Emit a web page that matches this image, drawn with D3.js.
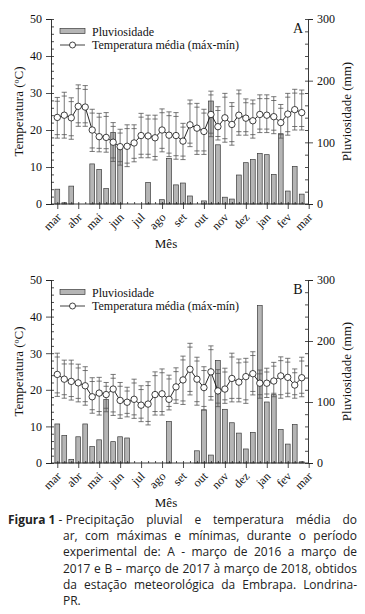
<!DOCTYPE html>
<html>
<head>
<meta charset="utf-8">
<script src="https://cdn.jsdelivr.net/npm/d3@7"></script>
<style>
body{margin:0;background:#fff;}
svg{display:block;}
</style>
</head>
<body>
<script>
// meses (um rótulo a cada 3 decêndios)
let months = ["mar","abr","mai","jun","jul","ago","set","out","nov","dez","jan","fev","mar"];

// A - março 2016 a março 2017 (por decêndio)
let rainA = [24,2,29,0,0,65,56,25,116,90,0,0,0,35,0,7,74,31,34,13,0,5,167,96,11,8,47,67,72,82,80,48,114,21,61,16];
let tempA = [23.4,24.0,23.3,26.4,26.2,20.0,18.2,18.0,16.7,15.5,15.6,16.5,18.5,18.4,17.9,20.0,18.6,18.5,17.0,21.4,20.5,19.6,24.2,20.9,23.3,21.5,24.0,23.2,22.5,24.2,24.0,23.6,22.0,24.3,25.5,24.7];
let maxA  = [28.8,30.2,28.7,32.2,32.0,25.6,24.5,24.7,22.0,20.2,21.4,21.4,24.5,24.0,24.0,25.7,24.9,24.7,21.8,28.1,27.2,25.6,30.5,26.3,29.9,27.4,30.8,28.4,28.1,29.5,29.5,29.0,26.9,29.9,31.0,30.8];
let minA  = [17.8,17.8,17.5,21.0,21.0,14.2,14.1,14.0,11.5,10.5,10.1,11.4,12.5,12.5,11.9,14.1,12.8,12.1,12.0,15.5,13.4,13.4,18.2,17.3,16.7,15.9,18.6,18.6,17.8,19.3,19.3,19.0,17.8,18.6,20.0,20.0];

// B - março 2017 a março 2018
let rainB = [64,45,6,43,64,27,38,104,35,43,41,0,0,0,0,0,68,0,0,0,20,87,13,168,88,66,49,23,50,258,100,112,55,31,63,2];
let tempB = [24.2,22.9,22.3,21.9,21.1,18.1,19.1,18.7,20.2,17.1,16.6,17.4,15.8,16.1,18.7,18.9,17.4,20.8,22.7,25.6,22.9,20.6,24.9,19.7,20.2,23.1,22.1,23.6,24.4,21.8,21.8,22.4,23.8,23.4,21.3,23.3];
let maxB  = [30.0,28.1,28.1,27.0,26.3,23.3,23.4,22.0,24.2,22.0,20.7,22.9,21.1,22.2,24.9,25.7,24.0,26.0,29.2,32.7,28.9,26.3,32.0,25.5,25.9,30.0,28.4,28.6,30.4,25.4,25.9,27.5,29.0,28.6,25.7,28.9];
let minB  = [18.2,17.7,17.2,16.7,15.8,13.6,13.1,14.0,13.0,12.2,12.6,12.2,11.3,10.4,13.1,13.1,14.5,16.3,16.0,18.6,15.8,14.5,17.2,15.4,16.3,16.7,16.7,16.3,18.6,17.7,17.9,18.1,17.7,18.1,17.7,18.1];

let tempTicks = [0,10,20,30,40,50];
let rainTicks = [0,100,200,300];

let width = 365, height = 614;
let svg = d3.select("body").append("svg").attr("width",width).attr("height",height);

let serif = "Liberation Serif, Times New Roman, serif";
let left = 51, right = 308;

let x = d3.scaleLinear().domain([-0.9,35.9]).range([left,right]);

function drawPanel(top, bottom, letter, rain, temp, tmax, tmin){
  let y = d3.scaleLinear().domain([0,50]).range([bottom,top]);
  let yR = d3.scaleLinear().domain([0,300]).range([bottom,top]);
  let g = svg.append("g").attr("font-family",serif);

  // bars
  g.selectAll("rect.bar").data(rain).enter().append("rect")
    .attr("class","bar")
    .attr("x",(d,i)=>x(i)-2.4)
    .attr("width",4.8)
    .attr("y",d=>yR(d))
    .attr("height",d=>bottom-yR(d))
    .attr("fill","#b5b5b5")
    .attr("stroke","#3c3c3c")
    .attr("stroke-width",0.7)
    .style("display",d=>d>0?null:"none");

  // error bars (max-min)
  let eb = g.append("g").attr("stroke","#555").attr("stroke-width",0.8).attr("fill","none");
  temp.forEach((d,i)=>{
    let xi = x(i), y1 = y(tmax[i]), y2 = y(tmin[i]);
    eb.append("line").attr("x1",xi).attr("x2",xi).attr("y1",y1).attr("y2",y2);
    [[y1,0],[y1,3.8],[y2,0],[y2,-3.5]].forEach(c=>{
      eb.append("line").attr("x1",xi-2.6).attr("x2",xi+2.6)
        .attr("y1",c[0]+c[1]).attr("y2",c[0]+c[1]);
    });
  });

  // line + circles
  let line = d3.line().x((d,i)=>x(i)).y(d=>y(d));
  g.append("path").attr("d",line(temp)).attr("fill","none").attr("stroke","#111").attr("stroke-width",0.9);
  g.selectAll("circle.pt").data(temp).enter().append("circle")
    .attr("class","pt")
    .attr("cx",(d,i)=>x(i)).attr("cy",d=>y(d)).attr("r",3.2)
    .attr("fill","#fff").attr("stroke","#111").attr("stroke-width",0.8);

  // left axis
  let yAxis = d3.axisLeft(y).tickValues(tempTicks).tickSize(5).tickPadding(4);
  g.append("g").attr("transform","translate("+left+",0)").call(yAxis);
  g.append("g").attr("transform","translate("+left+",0)")
    .call(d3.axisRight(y).tickValues(d3.range(0,51,2)).tickSize(3).tickFormat(""))
    .select(".domain").remove();

  // right axis
  let rAxis = d3.axisRight(yR).tickValues(rainTicks).tickSize(5).tickPadding(4);
  g.append("g").attr("transform","translate("+right+",0)").call(rAxis);
  g.append("g").attr("transform","translate("+right+",0)")
    .call(d3.axisLeft(yR).tickValues(d3.range(0,301,20)).tickSize(3).tickFormat(""))
    .select(".domain").remove();

  // bottom axis
  let xAxis = d3.axisBottom(x).tickValues(d3.range(0,37,3)).tickSize(5).tickFormat("");
  let gx = g.append("g").attr("transform","translate(0,"+bottom+")").call(xAxis);
  g.append("g").attr("transform","translate(0,"+bottom+")")
    .call(d3.axisTop(x).tickValues(d3.range(0,36,1)).tickSize(2).tickFormat(""))
    .select(".domain").remove();
  gx.select(".domain").attr("d","M"+left+",0H"+right);

  g.selectAll("g.tick line").attr("stroke","#222").attr("stroke-width",0.8);
  g.selectAll(".domain").attr("stroke","#222").attr("stroke-width",0.9);
  g.selectAll("g[font-family]").attr("font-family",serif).attr("font-size",12);
  g.selectAll("g.tick text").attr("fill","#111");

  // month labels
  g.selectAll("text.mon").data(months).enter().append("text")
    .attr("class","mon")
    .attr("transform",(d,i)=>"translate("+(x(i*3)+1.5)+","+(bottom+11)+") rotate(-45)")
    .attr("text-anchor","end")
    .attr("dy","0.35em")
    .attr("font-size",12).attr("fill","#111")
    .text(d=>d);

  g.append("text").attr("x",166).attr("y",bottom+44).attr("text-anchor","middle")
    .attr("font-size",13).attr("fill","#111").text("Mês");

  let cy = (top+bottom)/2;
  g.append("text").attr("transform","translate(23,"+cy+") rotate(-90)")
    .attr("text-anchor","middle").attr("font-size",13).attr("fill","#111").text("Temperatura (ºC)");
  g.append("text").attr("transform","translate(351,"+cy+") rotate(-90)")
    .attr("text-anchor","middle").attr("font-size",13).attr("fill","#111").text("Pluviosidade (mm)");

  // legend
  g.append("rect").attr("x",60).attr("y",top+9.5).attr("width",25).attr("height",5)
    .attr("fill","#b5b5b5").attr("stroke","#3c3c3c").attr("stroke-width",0.7);
  g.append("text").attr("x",92).attr("y",top+16.5).attr("font-size",12).attr("fill","#111").text("Pluviosidade");
  g.append("line").attr("x1",60).attr("x2",85).attr("y1",top+26).attr("y2",top+26)
    .attr("stroke","#111").attr("stroke-width",0.8);
  g.append("circle").attr("cx",72.5).attr("cy",top+26).attr("r",3)
    .attr("fill","#fff").attr("stroke","#111").attr("stroke-width",0.8);
  g.append("text").attr("x",92).attr("y",top+30).attr("font-size",12).attr("fill","#111").text("Temperatura média (máx-mín)");

  g.append("text").attr("x",298).attr("y",top+14).attr("text-anchor","middle")
    .attr("font-size",14).attr("fill","#111").text(letter);
}

drawPanel(19, 204, "A", rainA, tempA, maxA, minA);
drawPanel(280, 463, "B", rainB, tempB, maxB, minB);

// caption (justified)
let capLines = [
  "Precipitação pluvial e temperatura média do",
  "ar, com máximas e mínimas, durante o período",
  "experimental de: A - março de 2016 a março de",
  "2017 e B – março de 2017 à março de 2018, obtidos",
  "da estação meteorológica da Embrapa. Londrina-",
  "PR."
];
let capFont = "Liberation Sans Narrow, Arial Narrow, Open Sans, sans-serif";
let cap = svg.append("g").attr("font-family",capFont).attr("font-size",14).attr("fill","#222");

// shrink the font only if line 4 does not fit
let probe = cap.append("text").text(capLines[3]);
let w4 = probe.node().getComputedTextLength();
probe.remove();
let fs = Math.min(14, 14*288/w4);
cap.attr("font-size",fs);

let capX = 63, capEnd = 357, base0 = 524, lead = 16.2;

let fig = cap.append("text").attr("x",8).attr("y",base0).attr("font-weight","bold").text("Figura 1");
let figW = fig.node().getComputedTextLength();
let dashX = 8+figW+3;
let dash = cap.append("text").attr("x",dashX).attr("y",base0).text("-");
let firstX = Math.max(capX, dashX+dash.node().getComputedTextLength()+3.5);

capLines.forEach((ln,li)=>{
  let words = ln.split(" ");
  let yy = base0+li*lead;
  let x0 = li===0 ? firstX : capX;
  let nodes = words.map(w=>cap.append("text").attr("y",yy).text(w));
  let widths = nodes.map(n=>n.node().getComputedTextLength());
  let total = d3.sum(widths);
  let gap = (li===capLines.length-1 || words.length<2) ? 3.5 : (capEnd-x0-total)/(words.length-1);
  let pos = x0;
  nodes.forEach((n,i)=>{ n.attr("x",pos); pos += widths[i]+gap; });
});
</script>
</body>
</html>
